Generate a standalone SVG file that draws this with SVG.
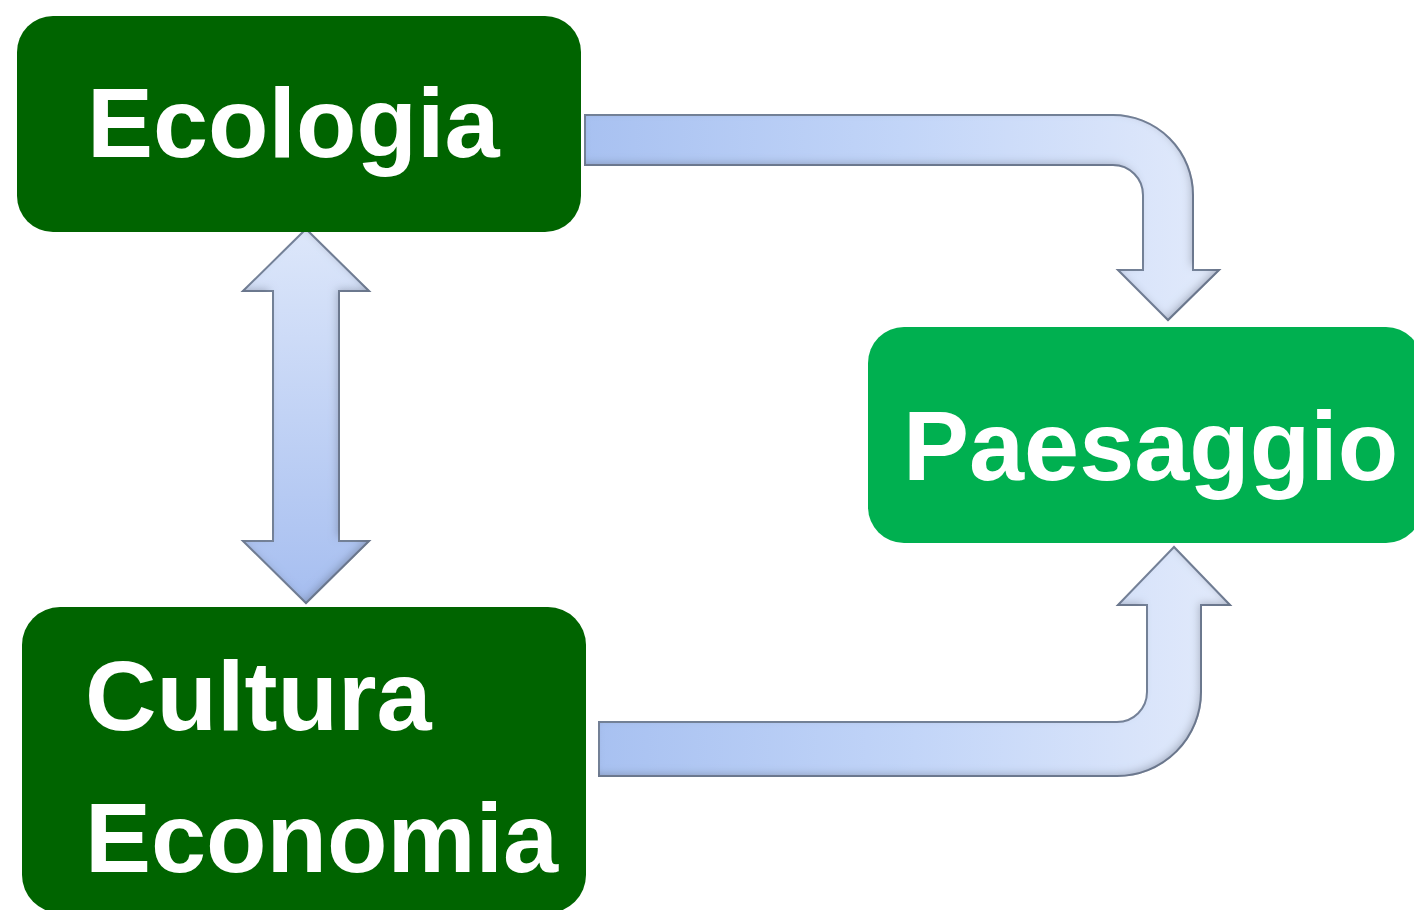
<svg xmlns="http://www.w3.org/2000/svg" width="1414" height="910" viewBox="0 0 1414 910">
<defs>
<style>
.dark{fill:#006400}
.light{fill:#00B050}
.lbl{font-family:"Liberation Sans",Arial,sans-serif;font-weight:bold;font-size:99px;fill:#ffffff}
.arr{stroke:#76839a;stroke-width:2;stroke-linejoin:miter}
</style>
<linearGradient id="gh" x1="0" y1="0" x2="1" y2="0">
<stop offset="0" stop-color="#a8c1f1"/>
<stop offset="0.5" stop-color="#c2d5f8"/>
<stop offset="1" stop-color="#e2eafb"/>
</linearGradient>
<linearGradient id="gv" x1="0" y1="0" x2="0" y2="1">
<stop offset="0" stop-color="#dde7fa"/>
<stop offset="1" stop-color="#a6bef0"/>
</linearGradient>
<filter id="bevel" x="-5%" y="-5%" width="110%" height="110%">
<feGaussianBlur in="SourceAlpha" stdDeviation="4" result="blur"/>
<feOffset in="blur" dx="-3" dy="-3" result="off"/>
<feComposite in="SourceAlpha" in2="off" operator="out" result="edge"/>
<feFlood flood-color="#5a6478" flood-opacity="0.55"/>
<feComposite in2="edge" operator="in" result="shadow"/>
<feMerge><feMergeNode in="SourceGraphic"/><feMergeNode in="shadow"/></feMerge>
</filter>
</defs>
<rect width="1414" height="910" fill="#ffffff"/>
<g id="connectors">
<path class="arr" fill="url(#gh)" filter="url(#bevel)" d="M585 115 L1113 115 A80 80 0 0 1 1193 195 L1193 270 L1219 270 L1168 320 L1118 270 L1143 270 L1143 195 A30 30 0 0 0 1113 165 L585 165 Z"/>
<path class="arr" fill="url(#gh)" filter="url(#bevel)" d="M599 722 L1117 722 A30 30 0 0 0 1147 692 L1147 605 L1118 605 L1174 547 L1230 605 L1201 605 L1201 692 A84 84 0 0 1 1117 776 L599 776 Z"/>
<path class="arr" fill="url(#gv)" filter="url(#bevel)" d="M306 229 L369 291 L339 291 L339 541 L369 541 L306 603 L243 541 L273 541 L273 291 L243 291 Z"/>
</g>
<g id="ecologia">
<rect class="dark" x="17" y="16" width="564" height="216" rx="36"/>
<text class="lbl" x="87" y="157">Ecologia</text>
</g>
<g id="cultura-economia">
<rect class="dark" x="22" y="607" width="564" height="306" rx="38"/>
<text class="lbl" x="85" y="730">Cultura</text>
<text class="lbl" x="85" y="872">Economia</text>
</g>
<g id="paesaggio">
<rect class="light" x="868" y="327" width="554" height="216" rx="36"/>
<text class="lbl" x="903" y="480">Paesaggio</text>
</g>
</svg>
